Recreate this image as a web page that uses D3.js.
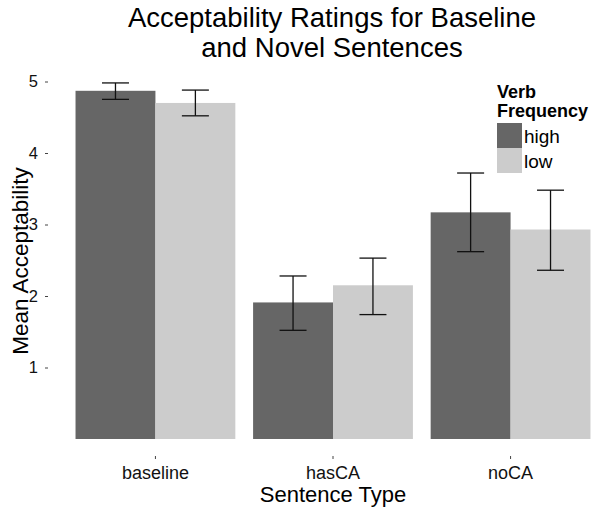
<!DOCTYPE html>
<html>
<head>
<meta charset="utf-8">
<script src="https://cdn.jsdelivr.net/npm/d3@7"></script>
<style>
  body { margin: 0; background: #fff; }
  .chart { width: 600px; height: 508px; }
  text { font-family: "Liberation Sans", Arial, sans-serif; fill: #000; }
</style>
</head>
<body>
<div class="chart"></div>
<script>
//Chart data
const categories = ["baseline", "hasCA", "noCA"];
const groups = ["high", "low"];
const meanHigh = [4.87, 1.91, 3.17];
const meanLow = [4.70, 2.15, 2.93];
const lowerHigh = [4.75, 1.52, 2.62];
const upperHigh = [4.98, 2.28, 3.72];
const lowerLow = [4.52, 1.74, 2.36];
const upperLow = [4.88, 2.53, 3.48];
const yTicks = [1, 2, 3, 4, 5];
const groupColors = ["#666666", "#cccccc"];

let chart = {};

//flatten into rows for the bars and error bars
chart.rows = [];
categories.forEach((c, i) => {
    chart.rows.push({cat: c, grp: "high", mean: meanHigh[i], lo: lowerHigh[i], hi: upperHigh[i]});
    chart.rows.push({cat: c, grp: "low", mean: meanLow[i], lo: lowerLow[i], hi: upperLow[i]});
});

chart.svg = d3.select(".chart").append("svg")
    .attr("width", 600)
    .attr("height", 508);

//scales
chart.y = d3.scaleLinear().domain([0, 5]).range([439, 81.5]);

chart.x0 = d3.scaleBand()
    .domain(categories)
    .range([48, 618])
    .paddingInner(0.1)
    .paddingOuter(0.155);

chart.x1 = d3.scaleBand()
    .domain(groups)
    .range([0, chart.x0.bandwidth()]);

chart.color = d3.scaleOrdinal().domain(groups).range(groupColors);

//bars
chart.svg.append("g").selectAll("rect.bar")
    .data(chart.rows)
    .enter().append("rect")
    .attr("class", "bar")
    .attr("x", d => chart.x0(d.cat) + chart.x1(d.grp))
    .attr("width", chart.x1.bandwidth())
    .attr("y", d => chart.y(d.mean))
    .attr("height", d => chart.y(0) - chart.y(d.mean))
    .style("fill", d => chart.color(d.grp));

//error bars
let capHalf = 13.5;
let errs = chart.svg.append("g").selectAll("g.err")
    .data(chart.rows)
    .enter().append("g")
    .attr("class", "err")
    .attr("transform", d => `translate(${chart.x0(d.cat) + chart.x1(d.grp) + chart.x1.bandwidth() / 2},0)`)
    .style("stroke", "#111")
    .style("stroke-width", 1.3);

errs.append("line")
    .attr("x1", 0).attr("x2", 0)
    .attr("y1", d => chart.y(d.hi))
    .attr("y2", d => chart.y(d.lo));
errs.append("line")
    .attr("x1", -capHalf).attr("x2", capHalf)
    .attr("y1", d => chart.y(d.hi))
    .attr("y2", d => chart.y(d.hi));
errs.append("line")
    .attr("x1", -capHalf).attr("x2", capHalf)
    .attr("y1", d => chart.y(d.lo))
    .attr("y2", d => chart.y(d.lo));

//y axis
let yAxis = chart.svg.append("g")
    .attr("transform", "translate(48,0)")
    .call(d3.axisLeft(chart.y).tickValues(yTicks).tickSize(3).tickPadding(7).tickFormat(d3.format("d")));
yAxis.select(".domain").remove();
yAxis.selectAll(".tick line").style("stroke", "#444");
yAxis.selectAll(".tick text")
    .style("font-size", "16.5px")
    .style("fill", "#111")
    .style("font-family", "'Liberation Sans', Arial, sans-serif");

//x axis
let xAxis = chart.svg.append("g")
    .attr("transform", "translate(0,456)")
    .call(d3.axisBottom(chart.x0).tickSize(3).tickPadding(6));
xAxis.select(".domain").remove();
xAxis.selectAll(".tick line").style("stroke", "#444");
xAxis.selectAll(".tick text")
    .attr("y", 0)
    .attr("dy", "23px")
    .style("font-size", "18px")
    .style("fill", "#111")
    .style("font-family", "'Liberation Sans', Arial, sans-serif");

//axis titles
chart.svg.append("text")
    .attr("x", 333)
    .attr("y", 502)
    .attr("text-anchor", "middle")
    .style("font-size", "22px")
    .text("Sentence Type");

chart.svg.append("text")
    .attr("transform", "translate(28,261) rotate(-90)")
    .attr("text-anchor", "middle")
    .style("font-size", "22.5px")
    .text("Mean Acceptability");

//title
chart.svg.append("text")
    .attr("x", 332)
    .attr("y", 27)
    .attr("text-anchor", "middle")
    .style("font-size", "27.5px")
    .text("Acceptability Ratings for Baseline");
chart.svg.append("text")
    .attr("x", 332)
    .attr("y", 57)
    .attr("text-anchor", "middle")
    .style("font-size", "27.5px")
    .text("and Novel Sentences");

//legend
let legend = chart.svg.append("g").attr("transform", "translate(497,0)");
legend.append("text")
    .attr("y", 98)
    .style("font-size", "18px")
    .style("font-weight", "bold")
    .text("Verb");
legend.append("text")
    .attr("y", 117)
    .style("font-size", "18px")
    .style("font-weight", "bold")
    .text("Frequency");

let keys = legend.selectAll("g.key")
    .data(groups)
    .enter().append("g")
    .attr("class", "key")
    .attr("transform", (d, i) => `translate(0,${123 + i * 25})`);
keys.append("rect")
    .attr("width", 25)
    .attr("height", 25)
    .style("fill", d => chart.color(d));
keys.append("text")
    .attr("x", 27)
    .attr("y", 20)
    .style("font-size", "19px")
    .text(d => d);
</script>
</body>
</html>
